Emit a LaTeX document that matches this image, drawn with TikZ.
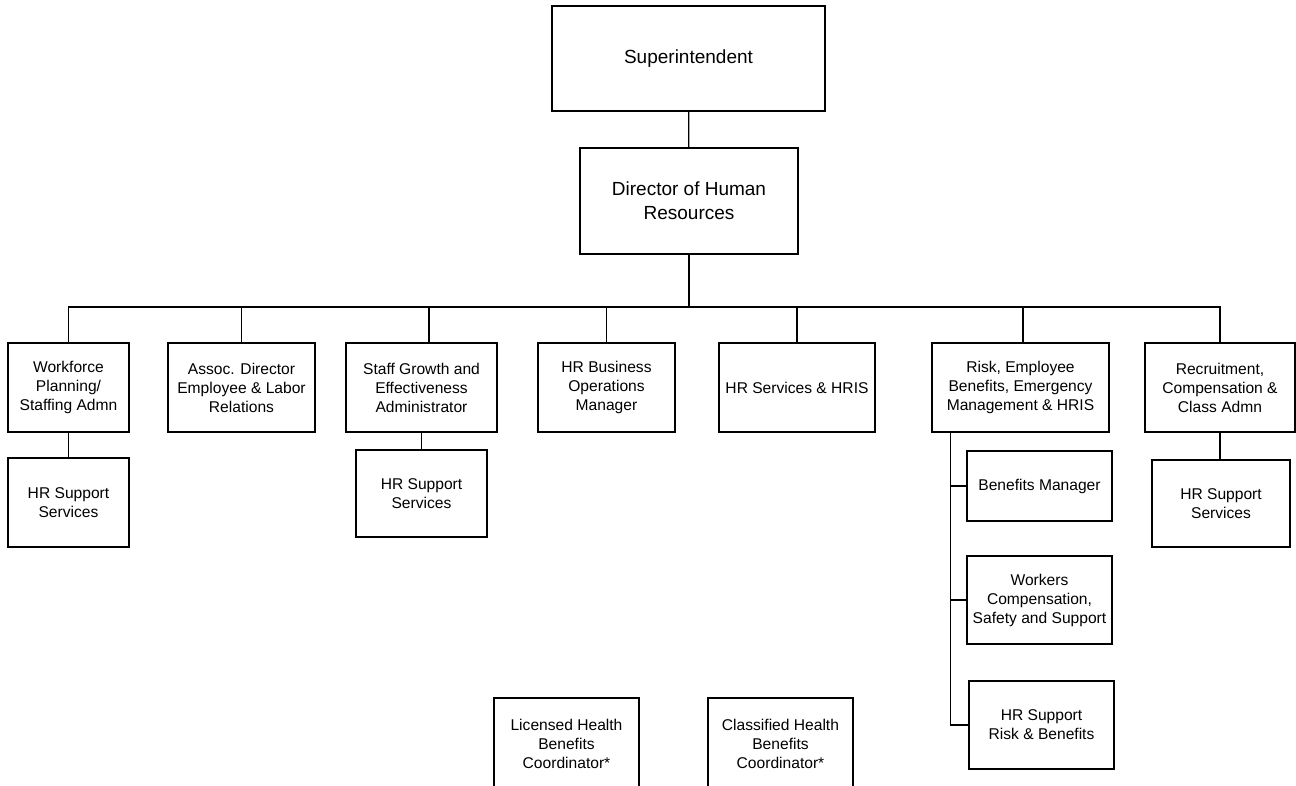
\documentclass[tikz,border=0pt]{standalone}
\usepackage{fontspec}
\setmainfont{Liberation Sans}
\begin{document}
\begin{tikzpicture}[x=0.5pt, y=-0.5pt, line width=0.6pt,
            box/.style={draw, rectangle, align=center, inner sep=2pt, font=\fontsize{7.8}{9.5}\selectfont},
            topbox/.style={box, font=\fontsize{9.5}{12}\selectfont},
            tier/.style={box, minimum height=44.5pt}]
            \useasboundingbox (0,0) rectangle (1296,786);
            \clip (0,0) rectangle (1296,786);
            \node[topbox, minimum width=136.5pt, minimum height=52.5pt] (supt) at (688.5,58.5) {Superintendent};
            \node[topbox, minimum width=109pt, minimum height=53pt] (dir) at (689,201) {Director of Human\\Resources};
            \coordinate (bus) at (691,307);

            \node[tier, minimum width=60.5pt] (wf) at (68.5,387.5) {Workforce\\Planning/\\Staffing Admn};
            \node[tier, minimum width=73.5pt] (assoc) at (241.5,387.5) {Assoc. Director\\Employee \& Labor\\Relations};
            \node[tier, minimum width=75.5pt] (stg) at (421.5,387.5) {Staff Growth and\\Effectiveness\\Administrator};
            \node[tier, minimum width=68.5pt] (ops) at (606.5,387.5) {HR Business\\Operations\\Manager};
            \node[tier, minimum width=78pt] (hris) at (797,387.5) {HR Services \& HRIS};
            \node[tier, minimum width=88.5pt] (risk) at (1020.5,387.5) {Risk, Employee\\Benefits, Emergency\\Management \& HRIS};
            \node[tier, minimum width=75pt] (recr) at (1220,387.5) {Recruitment,\\Compensation \&\\Class Admn};

            \node[box, minimum width=60.5pt, minimum height=44.5pt] (wfsup) at (68.5,502.5) {HR Support\\Services};
            \node[box, minimum width=65.5pt, minimum height=43.5pt] (stgsup) at (421.5,493.5) {HR Support\\Services};
            \node[box, minimum width=69pt, minimum height=43.5pt] (recrsup) at (1221,503.5) {HR Support\\Services};
            \node[box, minimum width=72.5pt, minimum height=35pt] (benm) at (1039.5,486) {Benefits Manager};
            \node[box, minimum width=72.5pt, minimum height=44pt] (wcomp) at (1039.5,600) {Workers\\Compensation,\\Safety and Support};
            \node[box, minimum width=72.5pt, minimum height=44pt] (hrrisk) at (1041.5,725) {HR Support\\Risk \& Benefits};

            \node[box, minimum width=72.5pt, minimum height=46pt] (lhb) at (566.5,744) {Licensed Health\\Benefits\\Coordinator*};
            \node[box, minimum width=72.5pt, minimum height=46pt] (chb) at (780.5,744) {Classified Health\\Benefits\\Coordinator*};

            \draw (supt) -- (dir);
            \draw (dir.south) -- (dir.south |- bus);
            \draw (wf.north) -- (wf.north |- bus) -- (recr.north |- bus) -- (recr.north);
            \draw (assoc.north) -- (assoc.north |- bus);
            \draw ([xshift=3.75pt]stg.north) -- ([xshift=3.75pt]stg.north |- bus);
            \draw (ops.north) -- (ops.north |- bus);
            \draw (hris.north) -- (hris.north |- bus);
            \draw ([xshift=1.25pt]risk.north) -- ([xshift=1.25pt]risk.north |- bus);

            \draw (wf) -- (wfsup);
            \draw (stg) -- (stgsup);
            \draw (recr.south) -- (recr.south |- recrsup.north);

            \coordinate (rtrunk) at ([xshift=9.5pt]risk.south west);
            \draw (rtrunk) |- (hrrisk.west);
            \draw (rtrunk |- benm.west) -- (benm.west);
            \draw (rtrunk |- wcomp.west) -- (wcomp.west);
        \end{tikzpicture}
\end{document}
